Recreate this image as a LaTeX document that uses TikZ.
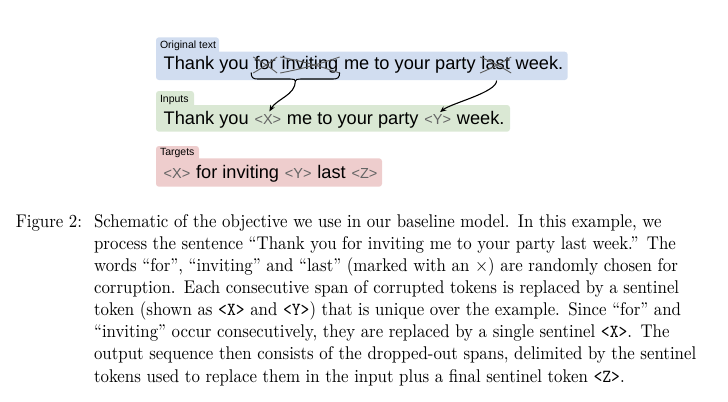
\documentclass[tikz,border=0pt]{standalone}
\usepackage{fontspec}
\usepackage{graphicx}
\newfontfamily\diagfont{Liberation Sans}
\usetikzlibrary{calc,arrows.meta}
\definecolor{origblue}{RGB}{209,221,240}
\definecolor{inpgreen}{RGB}{218,232,212}
\definecolor{tgtred}{RGB}{238,205,205}
\definecolor{sentgray}{RGB}{100,100,100}
\definecolor{crossgray}{RGB}{95,95,95}
\newcommand{\capline}[1]{\scalebox{0.915}[1]{\makebox[358.1pt][s]{#1}}}
\newcommand{\caplast}[1]{\scalebox{0.915}[1]{#1}}
\begin{document}
\begin{tikzpicture}[x=0.5435pt,y=-0.5435pt,
  word/.style={inner sep=0pt, anchor=base west, font=\diagfont\fontsize{9.9pt}{12pt}\selectfont},
  sent/.style={inner sep=0pt, anchor=base west, font=\diagfont\fontsize{7.9pt}{10pt}\selectfont, text=sentgray},
  tablabel/.style={inner sep=0pt, anchor=base west, font=\diagfont\fontsize{5.7pt}{7pt}\selectfont},
  cross/.style={draw=crossgray, line width=0.5pt},
  link/.style={draw=black, line width=0.6pt, shorten >=1.6pt, -{Stealth[length=3.4pt,width=2.8pt]}},
  brace/.style={draw=black, line width=0.55pt},
  capfont/.style={inner sep=0pt, anchor=base west, font=\fontsize{10pt}{12pt}\selectfont}
]
\useasboundingbox (0,0) rectangle (728,401);
\def\wsp{2.75pt}
% ---- boxes
\fill[origblue, rounded corners=1.6pt] (156,51.7) rectangle (567.7,80);
\fill[origblue, rounded corners=1.6pt] (156,37.3) rectangle (219,58);
\fill[inpgreen, rounded corners=1.6pt] (156,105) rectangle (510,131.7);
\fill[inpgreen, rounded corners=1.6pt] (156,91) rectangle (194,110);
\fill[tgtred, rounded corners=1.6pt] (156,158.3) rectangle (382,186.7);
\fill[tgtred, rounded corners=1.6pt] (156,146) rectangle (199,163);
% ---- tab labels
\node[tablabel] (labO) at (159.7,48.3) {Original text};
\node[tablabel] (labI) at (159.7,102.7) {Inputs};
\node[tablabel] (labT) at (159.7,155.7) {Targets};
% ---- original text
\node[word] (o1) at (163.3,69) {Thank you};
\node[word] (ofor) at ($(o1.base east)+(\wsp,0)$) {for};
\node[word] (oinv) at ($(ofor.base east)+(\wsp,0)$) {inviting};
\node[word] (o2) at ($(oinv.base east)+(\wsp,0)$) {me to your party};
\node[word] (olast) at ($(o2.base east)+(\wsp,0)$) {last};
\node[word] (o3) at ($(olast.base east)+(\wsp,0)$) {week.};
% crosses
\foreach \w in {ofor,oinv,olast}{
  \draw[cross] ($(\w.base west)+(-1,-12)$) to[bend left=4] ($(\w.base east)+(1,4)$);
  \draw[cross] ($(\w.base west)+(-1,4)$) to[bend right=4] ($(\w.base east)+(1,-12)$);
}
% bracket
\coordinate (brL) at ($(ofor.base west)+(-3,3.5)$);
\coordinate (brR) at ($(oinv.base east)+(1,3.5)$);
\coordinate (brC) at ($(brL)!0.5!(brR)+(0,8.5)$);
\draw[brace] (brL) .. controls +(0,5) and +(-4,0) .. ($(brL)+(6,6.5)$)
  -- ($(brC)+(-5,-2)$) .. controls +(3,0) and +(0,-1.5) .. (brC)
  .. controls +(0,-1.5) and +(-3,0) .. ($(brC)+(5,-2)$)
  -- ($(brR)+(-6,6.5)$) .. controls +(4,0) and +(0,5) .. (brR);
% ---- inputs
\node[word] (i1) at (163.3,124.3) {Thank you};
\node[sent] (iX) at ($(i1.base east)+(\wsp,0)$) {<X>};
\node[word] (i2) at ($(iX.base east)+(\wsp,0)$) {me to your party};
\node[sent] (iY) at ($(i2.base east)+(\wsp,0)$) {<Y>};
\node[word] (i3) at ($(iY.base east)+(\wsp,0)$) {week.};
% ---- targets
\node[sent] (tX) at (163.3,178.3) {<X>};
\node[word] (t1) at ($(tX.base east)+(\wsp,0)$) {for inviting};
\node[sent] (tY) at ($(t1.base east)+(\wsp,0)$) {<Y>};
\node[word] (t2) at ($(tY.base east)+(\wsp,0)$) {last};
\node[sent] (tZ) at ($(t2.base east)+(\wsp,0)$) {<Z>};
% ---- links
\draw[link] (brC) .. controls +(0,14) and +(9,-15) .. (iX.north);
\coordinate (lastfoot) at ($(olast.south)+(1,11)$);
\draw[link] (lastfoot) .. controls +(0,12) and +(14,-11) .. (iY.north);
% ---- caption
\node[capfont] (fignum) at (15.5,227.5) {\caplast{Figure 2:}};
\node[capfont, text width=327.7pt, align=left] (captext) at (93.7,227.5) {%
\capline{Schematic of the objective we use in our baseline model. In this example, we}\\
\capline{process the sentence “Thank you for inviting me to your party last week.” The}\\
\capline{words “for”, “inviting” and “last” (marked with an $\times$) are randomly chosen for}\\
\capline{corruption. Each consecutive span of corrupted tokens is replaced by a sentinel}\\
\capline{token (shown as \texttt{<X>} and \texttt{<Y>}) that is unique over the example. Since “for” and}\\
\capline{“inviting” occur consecutively, they are replaced by a single sentinel \texttt{<X>}. The}\\
\capline{output sequence then consists of the dropped-out spans, delimited by the sentinel}\\
\caplast{tokens used to replace them in the input plus a final sentinel token \texttt{<Z>}.}};
\end{tikzpicture}
\end{document}
